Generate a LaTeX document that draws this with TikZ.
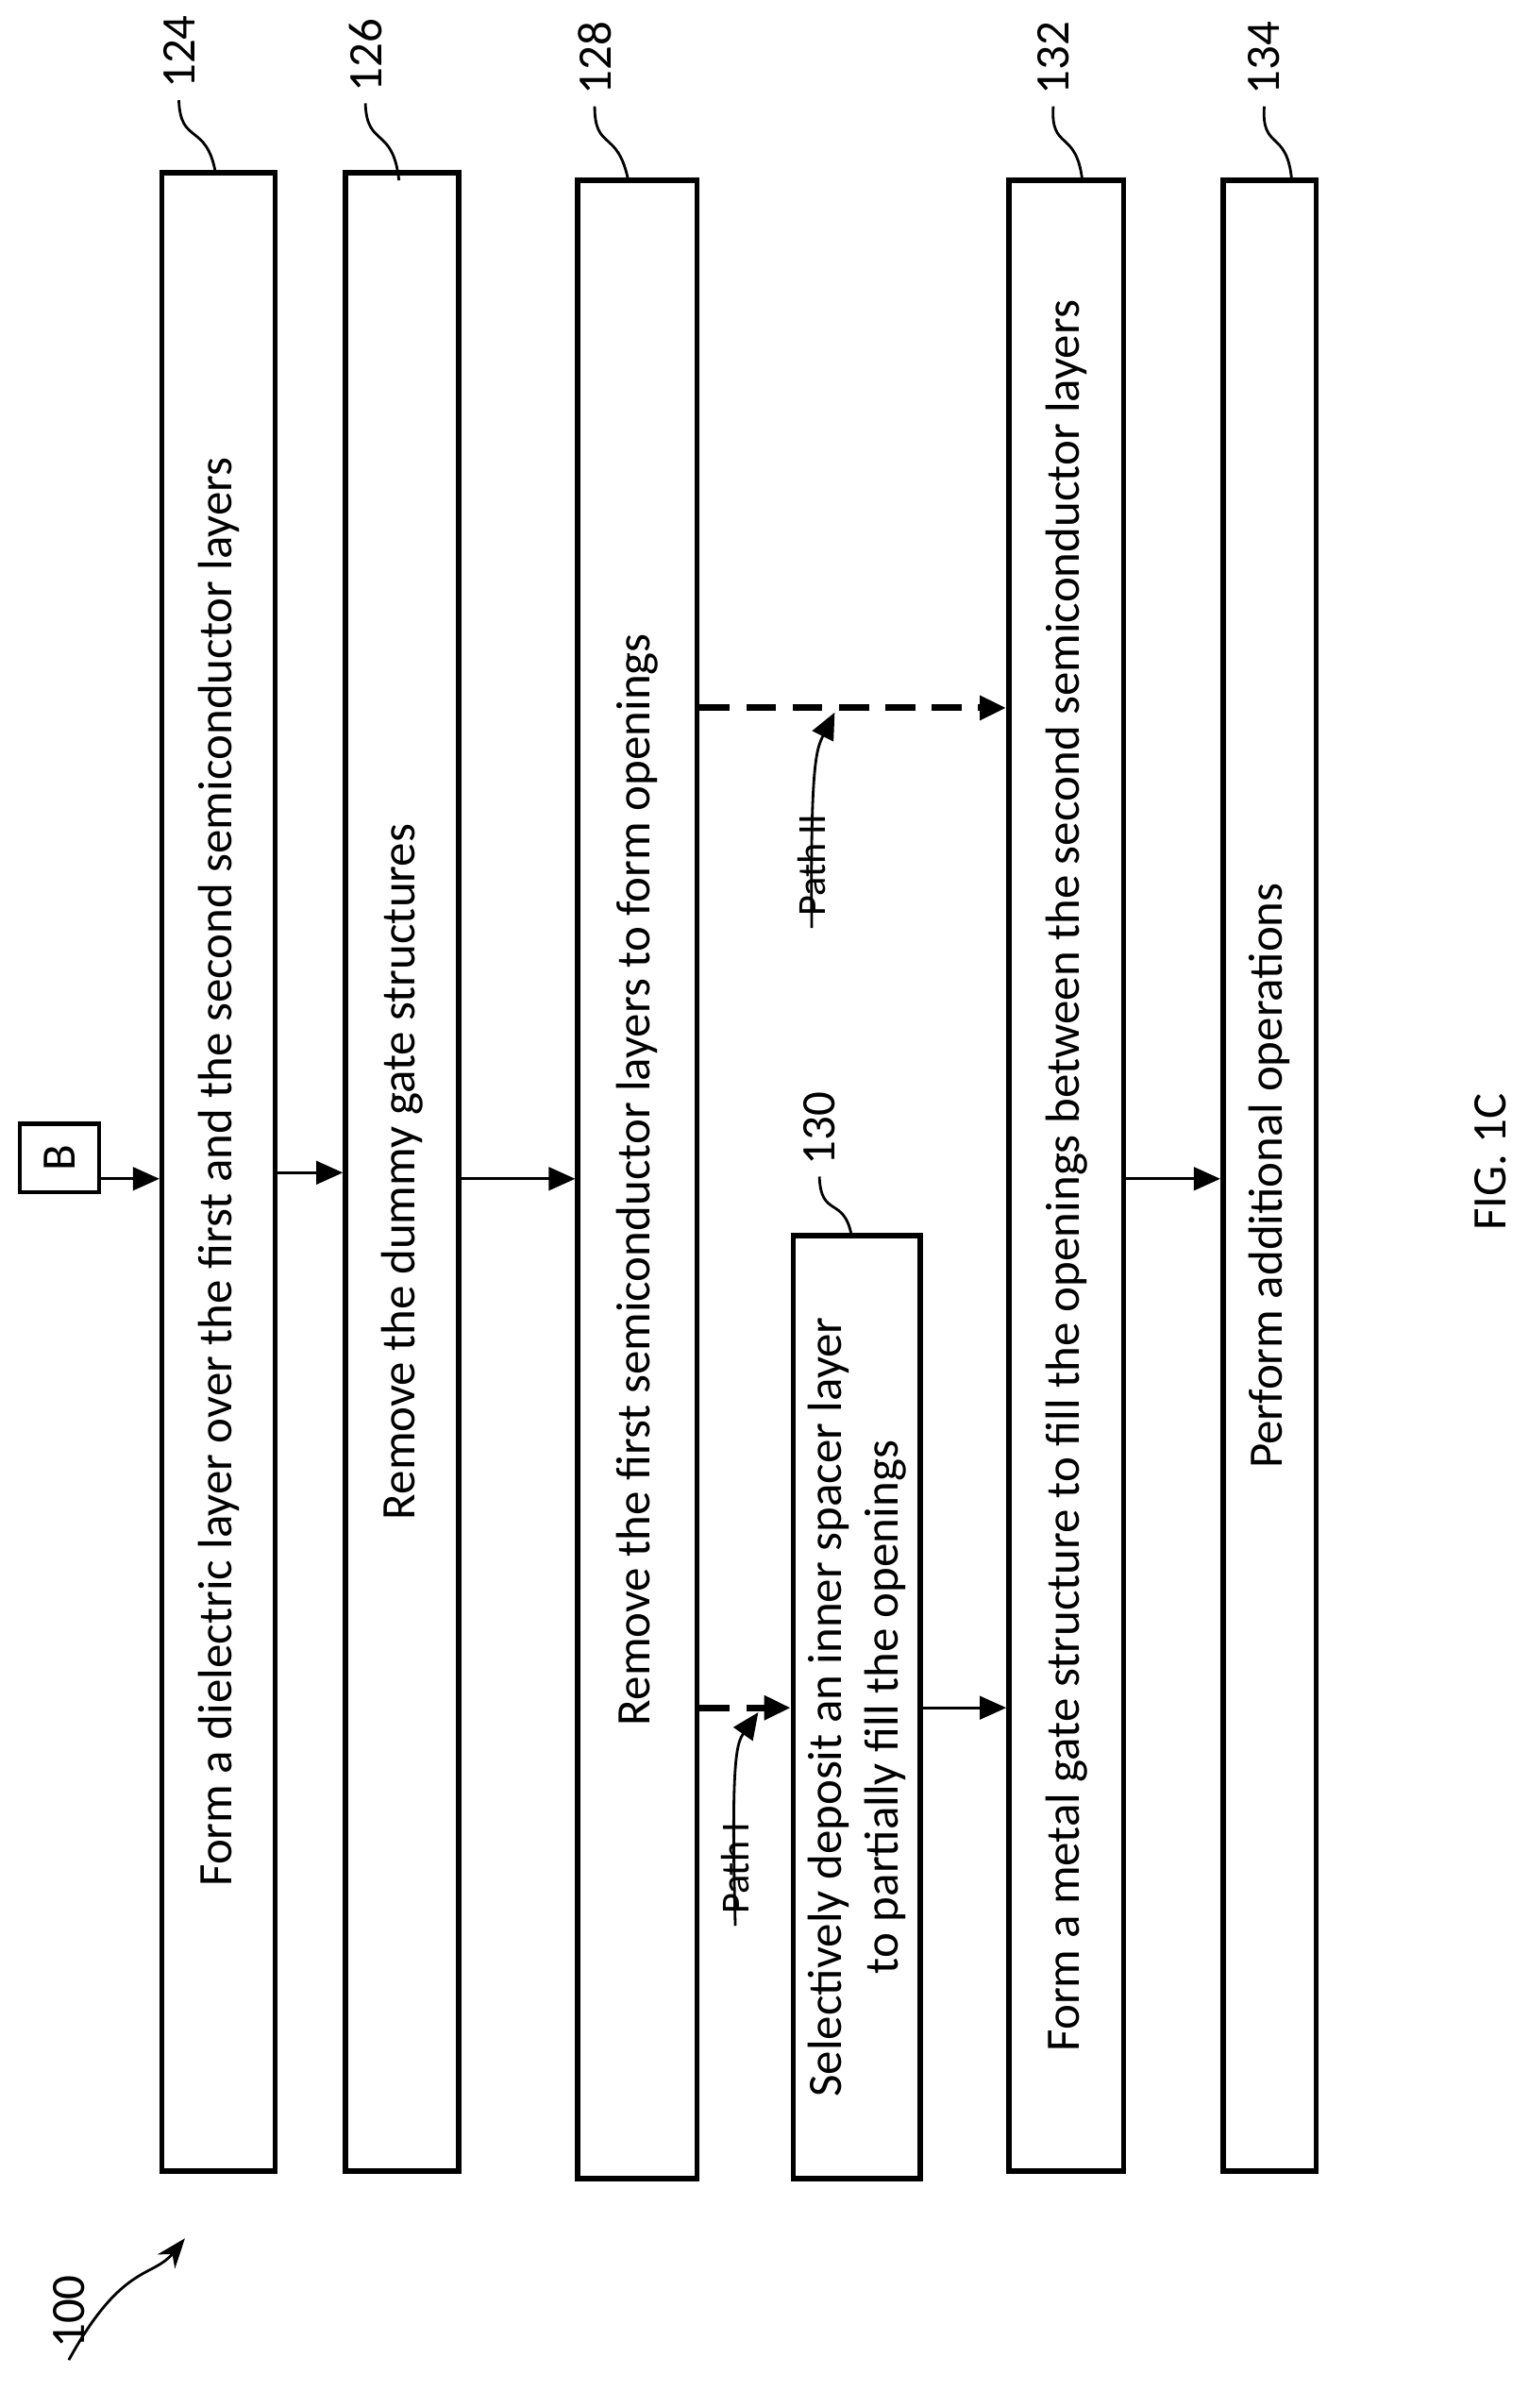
\documentclass[tikz,border=0pt]{standalone}
\usepackage{fontspec}
\setmainfont{Carlito}
\usetikzlibrary{arrows.meta, positioning}
\tikzset{
  stage/.style={draw=black, line width=1.6pt, rotate=90, align=center, font=\fontsize{14.5}{17}\selectfont, inner sep=0pt},
  arrow/.style={-{Triangle[length=8pt,width=7pt]}, line width=0.8pt},
  path arrow/.style={-{Triangle[length=8pt,width=7pt]}, line width=2pt, dash pattern=on 9pt off 5pt},
  leader/.style={line width=0.8pt},
  ref/.style={rotate=90, font=\fontsize{14.5}{17}\selectfont}
}
\begin{document}
\begin{tikzpicture}[x=0.0162cm, y=-0.0162cm]
\useasboundingbox (0,0) rectangle (1000,1575);

% Steps
\node (b124) [stage, minimum width=1307*0.0162cm, minimum height=74*0.0162cm] at (143,766.5) {Form a dielectric layer over the first and the second semiconductor layers};
\node (b126) [stage, minimum width=1307*0.0162cm, minimum height=74*0.0162cm] at (263,766.5) {Remove the dummy gate structures};
\node (b128) [stage, minimum width=1307*0.0162cm, minimum height=78*0.0162cm] at (417,771.5) {Remove the first semiconductor layers to form openings};
\node (b130) [stage, minimum width=617*0.0162cm, minimum height=83*0.0162cm] at (560.5,1116.5) {Selectively deposit an inner spacer layer\\to partially fill the openings};
\node (b132) [stage, minimum width=1302*0.0162cm, minimum height=75*0.0162cm] at (697.5,769) {Form a metal gate structure to fill the openings between the second semiconductor layers};
\node (b134) [stage, minimum width=1302*0.0162cm, minimum height=61*0.0162cm] at (830.5,769) {Perform additional operations};
\node (conB) [draw, line width=1.2pt, minimum width=45*0.0162cm, minimum height=52*0.0162cm, inner sep=0pt, ref] at (39,757.5) {B};

% Reference numerals
\node (n124) [ref] at (117,34) {124};
\node (n126) [ref] at (239,36) {126};
\node (n128) [ref] at (389,38) {128};
\node (n130) [ref] at (536,738) {130};
\node (n132) [ref] at (689,38) {132};
\node (n134) [ref] at (827,38) {134};
\node (n100) [ref] at (45,1512) {100};
\node (fig) [ref] at (975,760) {FIG. 1C};
\node (p1) [ref, font=\fontsize{12}{14}\selectfont] at (481,1222) {Path I};
\node (p2) [ref, font=\fontsize{12}{14}\selectfont] at (531,566) {Path II};

% Leaders
\draw [leader] (n124.west) .. controls (118,95) and (135,80) .. (141,113);
\draw [leader] (n126.west) .. controls (240,97) and (257,82) .. (261,118);
\draw [leader] (n128.west) .. controls (389,99) and (404,84) .. (411,118);
\draw [leader] (n130.west) .. controls (537,797) and (552,782) .. (557,808);
\draw [leader] (n132.west) .. controls (687,99) and (704,84) .. (708,118);
\draw [leader] (n134.west) .. controls (825,99) and (842,84) .. (845,118);

% Flow
\draw [arrow] (conB.south |- 0,771) -- (b124.north |- 0,771);
\draw [arrow] (b124.south |- 0,767) -- (b126.north |- 0,767);
\draw [arrow] (b126.south |- 0,771) -- (b128.north |- 0,771);
\draw [arrow] (b130.south |- 0,1117) -- (b132.north |- 0,1117);
\draw [arrow] (b132.south |- 0,771) -- (b134.north |- 0,771);
\draw [path arrow] (b128.south |- 0,1117) -- (b130.north |- 0,1117);
\draw [path arrow] (b128.south |- 0,463) -- (b132.north |- 0,463);

% Path labels
\draw [arrow] (p1.west) .. controls (478,1150) and (482,1140) .. (496,1120);
\draw [arrow] (p2.west) .. controls (530,500) and (534,490) .. (546,466);
\draw [-{Stealth[length=9pt]}, line width=0.8pt] (n100.west) .. controls (80,1480) and (100,1490) .. (121,1464);
\end{tikzpicture}
\end{document}
